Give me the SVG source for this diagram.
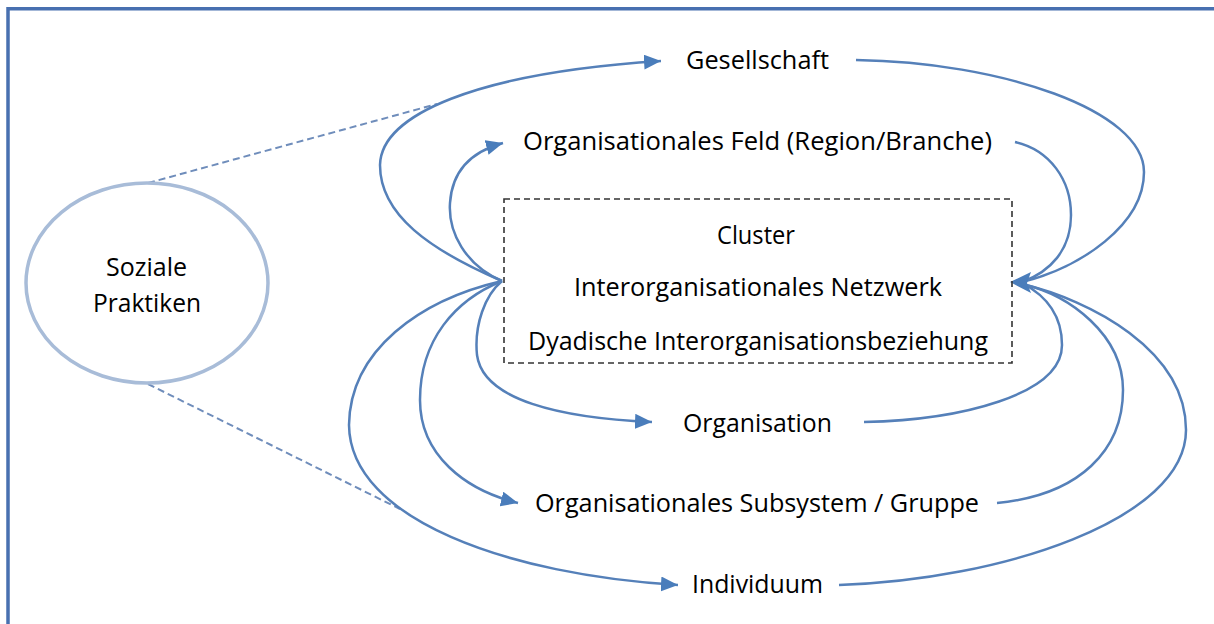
<svg xmlns="http://www.w3.org/2000/svg" width="1214" height="624" viewBox="0 0 1214 624">
<style>
  .lbl { font-family: "Open Sans", "Liberation Sans", sans-serif; font-size: 25.5px; fill: #000; text-anchor: middle; }
  .con { fill: none; stroke: #5580b9; stroke-width: 2.5; }
  .dash { fill: none; stroke: #6f8dbb; stroke-width: 2; stroke-dasharray: 7 4; }
  .box { fill: none; stroke: #333; stroke-width: 1.6; stroke-dasharray: 6 4; }
  .frame { fill: none; stroke: #4870b0; stroke-width: 3.5; }
  .head { fill: #4a7dbb; }
</style>
<defs>
  <marker id="arr" markerUnits="userSpaceOnUse" markerWidth="19" markerHeight="16" refX="17" refY="7.5" orient="auto">
    <path d="M0,0 L17,7.5 L0,15 z" class="head"/>
  </marker>
</defs>
<rect width="1214" height="624" fill="#fff"/>
<path class="frame" d="M8,640 L8,8.7 L1230,8.7"/>

<g id="connectors">
  <!-- dashed links from Soziale Praktiken -->
  <path class="dash" d="M148,183 L437,104"/>
  <path class="dash" d="M148,384 L400,509"/>
  <!-- from left hub to levels -->
  <path class="con" marker-end="url(#arr)" d="M502,281 C430,250 380,215 380,165 C381,115 475,73 661,61"/>
  <path class="con" marker-end="url(#arr)" d="M502,281 C465,265 448,232 450,203 C452,172 470,152 503,143"/>
  <path class="con" marker-end="url(#arr)" d="M502,281 C485,295 474,325 477,355 C483,400 560,418 652,422"/>
  <path class="con" marker-end="url(#arr)" d="M502,281 C455,300 420,340 420,400 C420,455 465,490 518,503"/>
  <path class="con" marker-end="url(#arr)" d="M502,281 C420,300 350,350 349,425 C350,520 510,575 678,585"/>
  <!-- from levels back to right hub -->
  <path class="con" d="M856,60 C1000,62 1144,110 1144,172 C1144,225 1080,268 1022,282"/>
  <path class="con" d="M1015,142 C1050,150 1071,180 1071,215 C1071,250 1050,272 1022,282"/>
  <path class="con" d="M864,422 C960,420 1062,395 1062,345 C1062,315 1045,295 1022,283"/>
  <path class="con" d="M997,503 C1080,495 1123,450 1123,390 C1123,335 1070,295 1022,284"/>
  <path class="con" d="M839,585 C1000,580 1186,520 1186,430 C1186,350 1090,300 1022,284"/>
  <path class="head" d="M1010,282 L1031,272 L1027,283 L1031,293 z"/>
</g>

<g id="soziale-praktiken">
  <ellipse cx="147" cy="283" rx="121" ry="100" fill="#fff" stroke="#a8bcd8" stroke-width="3.5"/>
  <text class="lbl" x="146.5" y="276" textLength="81" lengthAdjust="spacingAndGlyphs">Soziale</text>
  <text class="lbl" x="147" y="312" textLength="108" lengthAdjust="spacingAndGlyphs">Praktiken</text>
</g>

<g id="gesellschaft">
  <text class="lbl" x="757.5" y="69" textLength="143" lengthAdjust="spacingAndGlyphs">Gesellschaft</text>
</g>

<g id="feld">
  <text class="lbl" x="757.5" y="150" textLength="469" lengthAdjust="spacingAndGlyphs">Organisationales Feld (Region/Branche)</text>
</g>

<g id="interorganisational">
  <rect class="box" x="504" y="199" width="508" height="164"/>
  <text class="lbl" x="756" y="244" textLength="78" lengthAdjust="spacingAndGlyphs">Cluster</text>
  <text class="lbl" x="758" y="296" textLength="368" lengthAdjust="spacingAndGlyphs">Interorganisationales Netzwerk</text>
  <text class="lbl" x="758" y="350" textLength="460" lengthAdjust="spacingAndGlyphs">Dyadische Interorganisationsbeziehung</text>
</g>

<g id="organisation">
  <text class="lbl" x="757.5" y="432" textLength="149" lengthAdjust="spacingAndGlyphs">Organisation</text>
</g>

<g id="subsystem">
  <text class="lbl" x="757" y="512" textLength="444" lengthAdjust="spacingAndGlyphs">Organisationales Subsystem / Gruppe</text>
</g>

<g id="individuum">
  <text class="lbl" x="757.5" y="593" textLength="131" lengthAdjust="spacingAndGlyphs">Individuum</text>
</g>
</svg>
